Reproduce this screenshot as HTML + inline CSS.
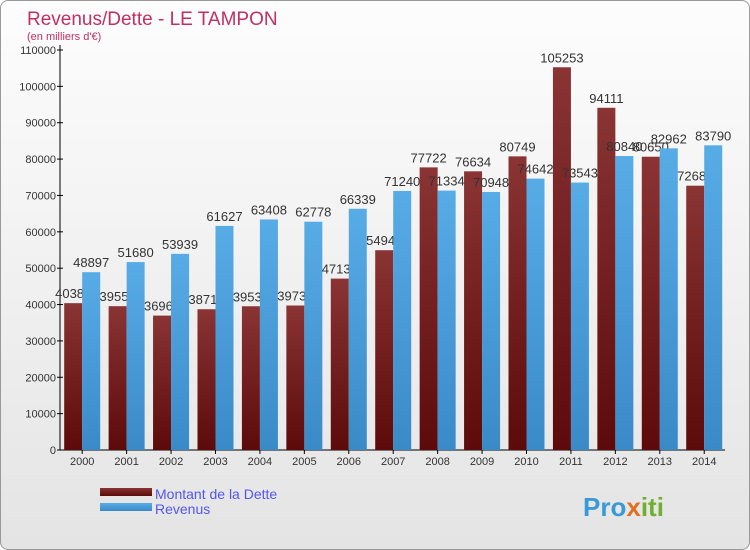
<!DOCTYPE html>
<html><head><meta charset="utf-8"><style>
body{margin:0;width:750px;height:550px;overflow:hidden;font-family:"Liberation Sans",sans-serif}
#wrap{position:absolute;left:0;top:0;width:748px;height:548px;border:1px solid #999;border-radius:8px;background:linear-gradient(#fdfdfd,#e4e4e4)}
</style></head><body>
<div id="wrap"></div>
<svg id="chart" width="750" height="550" style="position:absolute;left:0;top:0">
<defs>
<linearGradient id="gr" x1="0" y1="0" x2="0" y2="1"><stop offset="0" stop-color="#8a3434"/><stop offset="1" stop-color="#5c0a0a"/></linearGradient>
<linearGradient id="gb" x1="0" y1="0" x2="0" y2="1"><stop offset="0" stop-color="#58ace6"/><stop offset="1" stop-color="#3a8ac8"/></linearGradient>
</defs>
<text x="27" y="25" font-size="19" fill="#c03060">Revenus/Dette - LE TAMPON</text>
<text x="27" y="40" font-size="11" fill="#c03060">(en milliers d'€)</text>
<g id="axes"></g><g id="bars"></g>
<rect x="100" y="488" width="52" height="8" fill="url(#gr)"/>
<rect x="100" y="503" width="52" height="8" fill="url(#gb)"/>
<text x="155" y="499" font-size="14" fill="#5555ee">Montant de la Dette</text>
<text x="155" y="514" font-size="14" fill="#5555ee">Revenus</text>
<text x="583" y="516" font-size="26" font-weight="bold" fill="#3a9ad8">Pro<tspan fill="#e07020">x</tspan><tspan fill="#70b030">iti</tspan></text>
</svg>
<script>
const years=["2000","2001","2002","2003","2004","2005","2006","2007","2008","2009","2010","2011","2012","2013","2014"];
const dette=[40381,39550,36960,38710,39530,39730,47130,54940,77722,76634,80749,105253,94111,80650,72680];
const revenus=[48897,51680,53939,61627,63408,62778,66339,71240,71334,70948,74642,73543,80840,82962,83790];
const ticks=[0,10000,20000,30000,40000,50000,60000,70000,80000,90000,100000,110000];
const NS="http://www.w3.org/2000/svg";
const x0=60,step=44.43,y0=450,ymax=110000,h=400;
const Y=v=>y0-v/ymax*h;
const X=i=>x0+22.2+i*step;
function mk(tag,attrs,parent,text){const e=document.createElementNS(NS,tag);for(const k in attrs)e.setAttribute(k,attrs[k]);if(text!=null)e.textContent=text;parent.appendChild(e);return e;}
const ax=document.getElementById('axes'),bg=document.getElementById('bars');
let l=mk('line',{x1:x0,y1:45,x2:x0,y2:y0,stroke:'#000'},ax);


l=mk('line',{x1:x0,y1:y0,x2:725,y2:y0,stroke:'#000'},ax);


ticks.forEach(t=>{
 mk('line',{x1:x0-3,y1:Y(t),x2:x0+3,y2:Y(t),stroke:'#000'},ax);
 const e=mk('text',{x:x0-4,y:Y(t)+4,'font-size':11,'text-anchor':'end',fill:'#333'},ax,t);
 
 
});
years.forEach((yr,i)=>{
 mk('line',{x1:X(i),y1:y0,x2:X(i),y2:y0+4,stroke:'#000'},ax);
 const e=mk('text',{x:X(i),y:y0+15,'font-size':11,'text-anchor':'middle',fill:'#333'},ax,yr);
 
 
});
years.forEach((yr,i)=>{
 const r=mk('rect',{x:X(i)-18,y:Y(dette[i]),width:18,height:y0-Y(dette[i]),fill:'url(#gr)'},bg);
 
 
 const t=mk('text',{x:X(i)-9,y:Y(dette[i])-5,'font-size':13,'text-anchor':'middle',fill:'#333'},bg,dette[i]);
 
 
 const b=mk('rect',{x:X(i),y:Y(revenus[i]),width:18,height:y0-Y(revenus[i]),fill:'url(#gb)'},bg);
 
 
});
years.forEach((yr,i)=>{
 const t=mk('text',{x:X(i)+9,y:Y(revenus[i])-5,'font-size':13,'text-anchor':'middle',fill:'#333'},bg,revenus[i]);
 
 
});
</script>
</body></html>
